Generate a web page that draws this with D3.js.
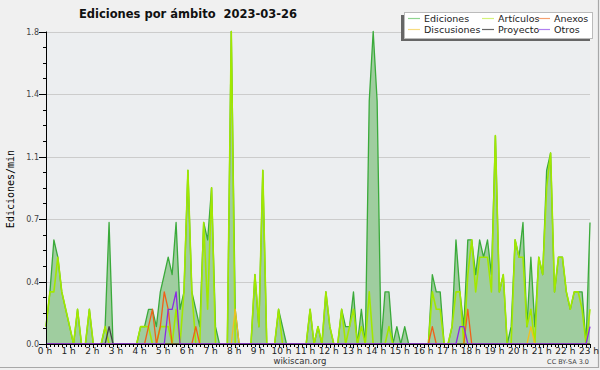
<!DOCTYPE html>
<html><head><meta charset="utf-8">
<script src="https://cdn.jsdelivr.net/npm/d3@7"></script>
<style>
html,body{margin:0;padding:0;background:#f0f0f0;}
svg{display:block;font-family:"DejaVu Sans",sans-serif;}
</style></head><body>
<svg id="c" width="600" height="370"></svg>
<script>
// 10-minute bins, values in edits per minute
const hourLabels = d3.range(24).map(h => h + " h");
const yTickValues = [0, 0.36, 0.72, 1.08, 1.44, 1.8];
const yTickLabels = ["0.0", "0.4", "0.7", "1.1", "1.4", "1.8"];

const ediciones = [
 0.1,0.3,0.6,0.5,0.3,0.2, 0.1,0,0.2,0,0,0.2, 0,0,0,0.1,0.7,0, 0,0,0,0,0,0,
 0.1,0.1,0.2,0.2,0.1,0.3, 0.4,0.5,0.4,0.7,0.2,0.3, 1.0,0.3,0.2,0.1,0.7,0.6, 0.9,0.1,0,0,0,1.8,
 0.2,0,0,0,0,0.4, 0.1,1.0,0,0,0,0.2, 0.1,0,0,0,0,0, 0,0.2,0,0.1,0,0.3,
 0.1,0,0,0.2,0.1,0.1, 0.3,0,0.2,0,1.4,1.8, 1.4,0,0.3,0.3,0,0.1, 0,0.1,0,0,0,0,
 0,0,0.4,0.3,0.3,0, 0,0.1,0.6,0.3,0.1,0.6, 0.6,0.4,0.6,0.5,0.6,0.4, 1.2,0.3,0.4,0,0.1,0.6,
 0.5,0.7,0.1,0.5,0.1,0.5, 0.4,1.0,1.1,0.3,0.5,0.5, 0.3,0.2,0.3,0.3,0.3,0, 0.7
];
const articulos = [
 0.1,0.3,0.3,0.5,0.3,0.2, 0.1,0,0.2,0,0,0.2, 0,0,0,0.1,0,0, 0,0,0,0,0,0,
 0.1,0.1,0.1,0,0,0.1, 0.1,0.1,0,0.2,0,0.3, 1.0,0.3,0,0,0.7,0.2, 0.9,0,0,0,0,1.8,
 0,0,0,0,0,0.4, 0.1,1.0,0,0,0,0.2, 0,0,0,0,0,0, 0,0.2,0,0.1,0,0.3,
 0.1,0,0,0.2,0,0.1, 0.2,0,0.1,0,0.3,0, 0,0,0,0.1,0,0, 0,0,0,0,0,0,
 0,0,0.3,0.2,0.2,0, 0,0.1,0.3,0.3,0,0.4, 0.6,0.3,0.5,0.5,0.5,0.3, 1.2,0.3,0.4,0,0,0.6,
 0.5,0.5,0.1,0.2,0,0.5, 0.4,0.9,1.1,0.3,0.5,0.5, 0.3,0.2,0.3,0.3,0.2,0, 0.2
];
const anexos = [
 0,0,0,0,0,0, 0,0,0,0,0,0, 0,0,0,0,0,0, 0,0,0,0,0,0,
 0,0,0.1,0.2,0,0.1, 0.3,0.2,0,0,0,0, 0,0,0.1,0,0,0, 0,0,0,0,0,0,
 0,0,0,0,0,0, 0,0,0,0,0,0, 0,0,0,0,0,0, 0,0,0,0,0,0,
 0,0,0,0,0,0, 0,0,0,0,0,0, 0,0,0,0,0,0, 0,0,0,0,0,0,
 0,0,0.1,0,0,0, 0,0,0,0,0,0.2, 0,0,0,0,0,0, 0,0,0,0,0,0,
 0,0,0,0,0,0, 0,0,0,0,0,0, 0,0,0,0,0,0, 0
];
const discusiones = [
 0,0,0,0,0,0, 0,0,0,0,0,0, 0,0,0,0,0,0, 0,0,0,0,0,0,
 0,0,0,0,0,0, 0,0,0,0,0,0, 0,0,0,0,0,0, 0,0,0,0,0,0,
 0.2,0,0,0,0,0, 0,0,0,0,0,0, 0,0,0,0,0,0, 0,0,0,0,0,0,
 0,0,0,0,0,0, 0,0,0,0,0,0, 0,0,0,0,0,0, 0,0,0,0,0,0,
 0,0,0,0,0,0, 0,0,0,0,0,0, 0,0,0,0,0,0, 0,0,0,0,0,0,
 0,0,0,0.1,0,0, 0,0,0,0,0,0, 0,0,0,0,0,0, 0
];
const proyecto = [
 0,0,0,0,0,0, 0,0,0,0,0,0, 0,0,0,0,0.1,0, 0,0,0,0,0,0,
 0,0,0,0,0,0, 0,0,0,0,0,0, 0,0,0,0,0,0, 0,0,0,0,0,0,
 0,0,0,0,0,0, 0,0,0,0,0,0, 0,0,0,0,0,0, 0,0,0,0,0,0,
 0,0,0,0,0,0, 0,0,0,0,0,0, 0,0,0,0,0,0, 0,0,0,0,0,0,
 0,0,0,0,0,0, 0,0,0,0,0,0, 0,0,0,0,0,0, 0,0,0,0,0,0,
 0,0,0,0,0,0, 0,0,0,0,0,0, 0,0,0,0,0,0, 0
];
const otros = [
 0,0,0,0,0,0, 0,0,0,0,0,0, 0,0,0,0,0,0, 0,0,0,0,0,0,
 0,0,0,0,0,0, 0,0.2,0.2,0.3,0,0, 0,0,0,0,0,0, 0,0,0,0,0,0,
 0,0,0,0,0,0, 0,0,0,0,0,0, 0,0,0,0,0,0, 0,0,0,0,0,0,
 0,0,0,0,0,0, 0,0,0,0,0,0, 0,0,0,0,0,0, 0,0,0,0,0,0,
 0,0,0,0,0,0, 0,0,0,0.1,0.1,0, 0,0,0,0,0,0, 0,0,0,0,0,0,
 0,0,0,0,0,0, 0,0,0,0,0,0, 0,0,0,0,0,0, 0.1
];

const seriesNames = ["Ediciones","Artículos","Anexos","Discusiones","Proyecto","Otros"];
const seriesColors = ["#3aaa3a","#a2e800","#f06018","#f0c020","#444444","#8a2be2"];
const legendColors = ["#8fd48f","#d4f27a","#f5a070","#f7dc80","#666666","#b080f0"];

const svg = d3.select("#c");
const L = 46, R = 590, T = 31.5, B = 344;
const x = d3.scaleLinear().domain([0, 23]).range([L, R]);
const y = d3.scaleLinear().domain([0, 1.8]).range([B, T]);
const hx = i => x(i / 6);

// backgrounds
svg.append("rect").attr("width",600).attr("height",370).attr("fill","#f0f0f0");
svg.append("rect").attr("x",L).attr("y",T).attr("width",R-L).attr("height",B-T).attr("fill","#eceef0");
// frame
svg.append("line").attr("x1",598.5).attr("x2",598.5).attr("y1",0).attr("y2",368).attr("stroke","#a8a8a8").attr("stroke-width",1.2);
svg.append("line").attr("x1",0).attr("x2",599).attr("y1",367.5).attr("y2",367.5).attr("stroke","#a8a8a8").attr("stroke-width",1.2);

// grid
svg.append("g").selectAll("line").data(yTickValues.slice(1)).join("line")
  .attr("x1",L).attr("x2",R).attr("y1",d=>Math.round(y(d))+0.5).attr("y2",d=>Math.round(y(d))+0.5)
  .attr("stroke","#cccccc").attr("stroke-width",1);

// Ediciones area
const area = d3.area().x((d,i)=>hx(i)).y0(B).y1(d=>y(d));
svg.append("path").datum(ediciones).attr("d",area).attr("fill","#9fcd9f");
const line = d3.line().x((d,i)=>hx(i)).y(d=>y(d));
svg.append("path").datum(ediciones).attr("d",line).attr("fill","none")
  .attr("stroke",seriesColors[0]).attr("stroke-width",1.3).attr("stroke-linejoin","round");

const others = [articulos, anexos, discusiones, proyecto, otros];
others.forEach((s,k)=>{
  svg.append("path").datum(s).attr("d",line).attr("fill","none")
    .attr("stroke",seriesColors[k+1]).attr("stroke-width",k===0?1.6:1.3).attr("stroke-linejoin","round");
});

// axes
const ax = svg.append("g");
ax.append("line").attr("x1",L+0.5).attr("x2",L+0.5).attr("y1",T).attr("y2",B+1).attr("stroke","#000");
ax.append("line").attr("x1",L).attr("x2",R+1).attr("y1",B+0.5).attr("y2",B+0.5).attr("stroke","#000");
// y minor ticks
ax.selectAll(".ym").data(d3.range(0,21)).join("line")
  .attr("x1",d=> d%4===0 ? L-7 : L-3).attr("x2",L)
  .attr("y1",d=>Math.round(y(d*0.09))+0.5).attr("y2",d=>Math.round(y(d*0.09))+0.5)
  .attr("stroke","#000");
ax.selectAll(".yl").data(yTickValues).join("text")
  .attr("x",L-7).attr("y",d=>y(d)+3).attr("text-anchor","end")
  .attr("font-size",8).attr("fill","#444").text((d,i)=>yTickLabels[i]);
// x ticks
ax.selectAll(".xm").data(d3.range(0,139)).join("line")
  .attr("x1",d=>Math.round(hx(d))+0.5).attr("x2",d=>Math.round(hx(d))+0.5)
  .attr("y1",B).attr("y2",d=> d%6===0 ? B+4 : B+3).attr("stroke","#000");
ax.selectAll(".xl").data(hourLabels).join("text")
  .attr("x",(d,i)=>x(i)-1).attr("y",B+9.5).attr("text-anchor","middle")
  .attr("font-size",9).attr("fill","#222").text(d=>d);

// y label
svg.append("text").attr("transform","translate(13.5,189) rotate(-90)")
  .attr("text-anchor","middle").attr("font-family","DejaVu Sans Mono").attr("font-size",10)
  .attr("fill","#000").text("Ediciones/min");

// title
svg.append("text").attr("x",188).attr("y",18).attr("text-anchor","middle")
  .attr("font-weight","bold").attr("font-size",11.5).attr("fill","#111")
  .style("white-space","pre").attr("xml:space","preserve")
  .text("Ediciones por ámbito  2023-03-26");

// footer
svg.append("text").attr("x",300).attr("y",364).attr("text-anchor","middle")
  .attr("font-size",8.5).attr("fill","#333").text("wikiscan.org");
svg.append("text").attr("x",589).attr("y",364).attr("text-anchor","end")
  .attr("font-size",6.5).attr("fill","#444").text("CC BY-SA 3.0");

// legend
const lg = svg.append("g");
lg.append("rect").attr("x",401).attr("y",15).attr("width",189).attr("height",26).attr("fill","#666");
lg.append("rect").attr("x",404.5).attr("y",12.5).attr("width",188).attr("height",26)
  .attr("fill","#fff").attr("stroke","#bbb");
const legPos = [[408,18.5],[482,18.5],[538,18.5],[408,29.5],[482,29.5],[538,29.5]];
const legOrder = [0,1,2,3,4,5];
legOrder.forEach((k,j)=>{
  const [lx,ly] = legPos[j];
  lg.append("line").attr("x1",lx).attr("x2",lx+12).attr("y1",ly).attr("y2",ly)
    .attr("stroke",legendColors[k]).attr("stroke-width",1.2);
  lg.append("text").attr("x",lx+16).attr("y",ly+3.5).attr("font-size",9.5)
    .attr("fill","#222").text(seriesNames[k]);
});
</script>
</body></html>
